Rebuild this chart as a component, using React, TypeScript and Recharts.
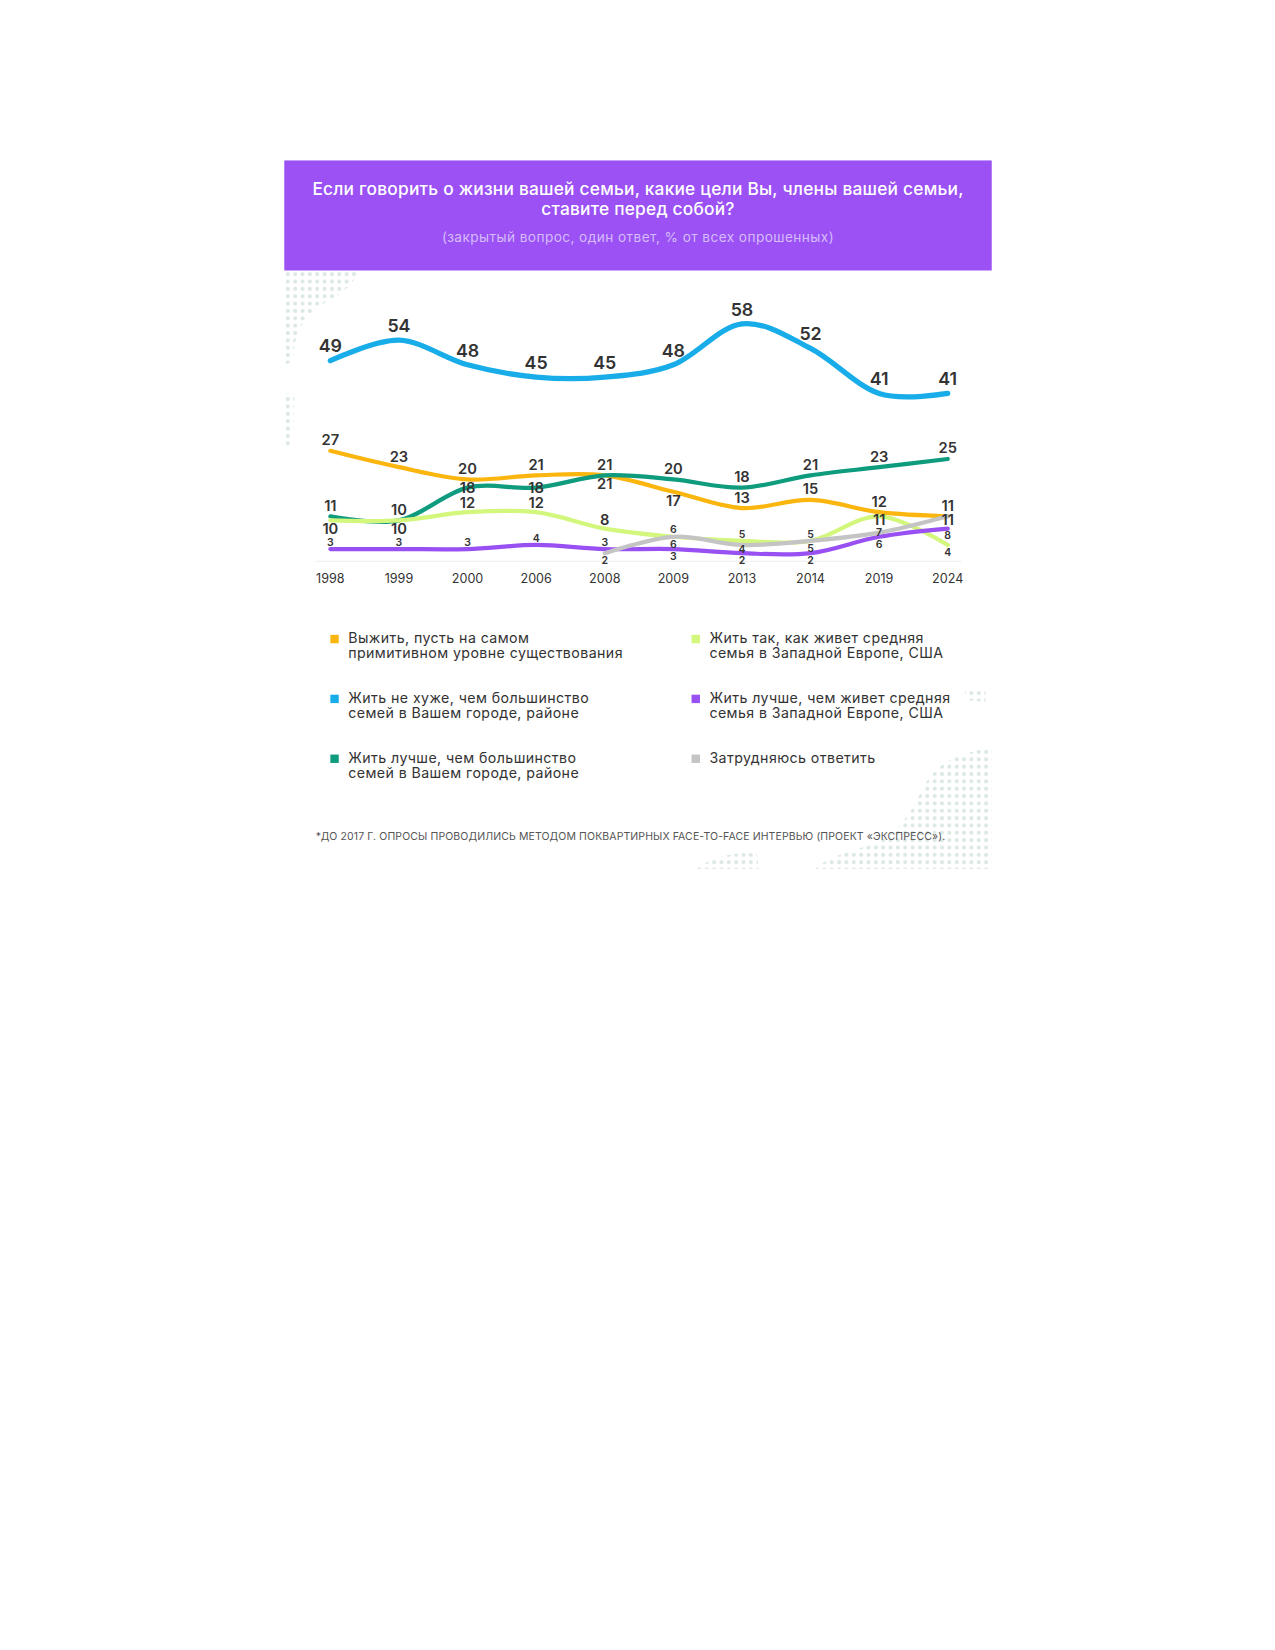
import { LineChart, Line, XAxis, YAxis } from "recharts";

const years = ["1998", "1999", "2000", "2006", "2008", "2009", "2013", "2014", "2019", "2024"];

const survive = [27, 23, 20, 21, 21, 17, 13, 15, 12, 11];
const notWorse = [49, 54, 48, 45, 45, 48, 58, 52, 41, 41];
const betterLocal = [11, 10, 18, 18, 21, 20, 18, 21, 23, 25];
const likeWest = [10, 10, 12, 12, 8, 6, 5, 5, 11, 4];
const betterWest = [3, 3, 3, 4, 3, 3, 2, 2, 6, 8];
const hardToSay = [null, null, null, null, 2, 6, 4, 5, 7, 11];

const data = years.map((year, i) => ({
  year,
  survive: survive[i],
  notWorse: notWorse[i],
  betterLocal: betterLocal[i],
  likeWest: likeWest[i],
  betterWest: betterWest[i],
  hardToSay: hardToSay[i],
}));

// where each value label sits: a = above, b = below, s = just below, c = on the line
const labelSide: Record<string, string[]> = {
  notWorse: ["a", "a", "a", "a", "a", "a", "a", "a", "a", "a"],
  survive: ["a", "a", "a", "a", "a", "b", "a", "a", "a", "a"],
  betterLocal: ["a", "a", "c", "c", "b", "a", "a", "a", "a", "a"],
  likeWest: ["b", "b", "a", "a", "a", "a", "a", "a", "s", "b"],
  betterWest: ["a", "a", "a", "a", "a", "b", "b", "b", "b", "b"],
  hardToSay: ["b", "b", "b", "b", "b", "b", "s", "b", "c", "s"],
};

const series = [
  { key: "survive", name: ["Выжить, пусть на самом", "примитивном уровне существования"], color: "#FBB50F", width: 4, font: 14 },
  { key: "notWorse", name: ["Жить не хуже, чем большинство", "семей в Вашем городе, районе"], color: "#18ADE8", width: 5, font: 17 },
  { key: "betterLocal", name: ["Жить лучше, чем большинство", "семей в Вашем городе, районе"], color: "#0E9B7E", width: 4, font: 14 },
  { key: "likeWest", name: ["Жить так, как живет средняя", "семья в Западной Европе, США"], color: "#D3F77C", width: 4, font: 14 },
  { key: "betterWest", name: ["Жить лучше, чем живет средняя", "семья в Западной Европе, США"], color: "#9850F2", width: 4, font: 10 },
  { key: "hardToSay", name: ["Затрудняюсь ответить"], color: "#C4C4C4", width: 4, font: 10 },
];

const legendOrder = [
  ["survive", "likeWest"],
  ["notWorse", "betterWest"],
  ["betterLocal", "hardToSay"],
];

const FONT = "Inter, 'Open Sans', sans-serif";

// cardinal spline (passes through points, slight overshoot like the original)
const cardinal = (context: any) => {
  const k = 1 / 6;
  let x0 = NaN, y0 = NaN, x1 = NaN, y1 = NaN, x2 = NaN, y2 = NaN, n = 0;
  const seg = (x: number, y: number) =>
    context.bezierCurveTo(x1 + k * (x2 - x0), y1 + k * (y2 - y0), x2 + k * (x1 - x), y2 + k * (y1 - y), x2, y2);
  return {
    areaStart() {},
    areaEnd() {},
    lineStart() {
      x0 = x1 = x2 = y0 = y1 = y2 = NaN;
      n = 0;
    },
    lineEnd() {
      if (n === 2) context.lineTo(x2, y2);
      else if (n === 3) seg(x1, y1);
    },
    point(x: number, y: number) {
      x = +x;
      y = +y;
      if (n === 0) {
        n = 1;
        context.moveTo(x, y);
      } else if (n === 1) {
        n = 2;
        x1 = x;
        y1 = y;
      } else {
        n = 3;
        seg(x, y);
      }
      x0 = x1; x1 = x2; x2 = x;
      y0 = y1; y1 = y2; y2 = y;
    },
  };
};

const makeLabel = (key: string, baseFont: number) => (props: any) => {
  const { x, y, value, index } = props;
  if (value == null) return null;
  let size = baseFont;
  if (key === "likeWest" && value < 8) size = 10;
  if (key === "hardToSay" && value >= 8) size = 14;
  const side = labelSide[key][index];
  let up = size >= 17 ? 14 : size >= 14 ? 10 : 6.5;
  if (key === "likeWest" && size >= 14) up = 8.5;
  const down = size >= 14 ? 8.5 : 7;
  const dy = side === "a" ? -up : side === "b" ? down : side === "s" ? 4 : 0;
  return (
    <text
      x={x}
      y={y + dy}
      textAnchor="middle"
      dominantBaseline="central"
      fontFamily={FONT}
      fontWeight={600}
      fontSize={size}
      fill="#333"
    >
      {value}
    </text>
  );
};

const Dots = () => (
  <svg width={674} height={675} style={{ position: "absolute", left: 0, top: 0, pointerEvents: "none" }}>
    <defs>
      <pattern id="dotpat" width="7" height="7" patternUnits="userSpaceOnUse">
        <circle cx="3.5" cy="3.5" r="1.9" fill="#dce8e4" />
      </pattern>
    </defs>
    <path d="M0 105 L72 105 Q62 125 40 135 Q15 150 10 175 L8 192 L0 195 Z" fill="url(#dotpat)" />
    <path d="M0 222 L10 222 L8 272 L0 274 Z" fill="url(#dotpat)" />
    <path d="M674 560 Q625 565 608 598 Q590 640 560 652 Q520 662 505 675 L674 675 Z" fill="url(#dotpat)" />
    <path d="M648 505 L668 505 L668 516 L650 514 Z" fill="url(#dotpat)" />
    <path d="M392 675 Q415 658 450 660 L452 675 Z" fill="url(#dotpat)" />
  </svg>
);

export default function App() {
  return (
    <div
      style={{
        position: "relative",
        width: 960,
        height: 960,
        fontFamily: FONT,
        transform: "scale(1.05)",
        transformOrigin: "0 0",
      }}
    >
      <div style={{ position: "absolute", left: 263, top: 145, width: 674, height: 675, background: "#fff", overflow: "hidden" }}>
        <Dots />
        <div
          style={{
            position: "absolute",
            left: 0,
            top: 0,
            width: 674,
            height: 105,
            background: "#9B51F4",
            color: "#fff",
            textAlign: "center",
          }}
        >
          <div style={{ marginTop: 18, fontSize: 16.5, fontWeight: 500, lineHeight: "19px", letterSpacing: 0.2 }}>
            Если говорить о жизни вашей семьи, какие цели Вы, члены вашей семьи,
            <br />
            ставите перед собой?
          </div>
          <div style={{ marginTop: 9, fontSize: 13, color: "#D6BCFB", fontWeight: 400, letterSpacing: 0.4 }}>
            (закрытый вопрос, один ответ, % от всех опрошенных)
          </div>
        </div>

        <div style={{ position: "absolute", left: 0, top: 112 }}>
          <LineChart width={674} height={300} data={data} margin={{ top: 36, right: 29, left: 30, bottom: 0 }}>
            <XAxis
              dataKey="year"
              padding={{ left: 14, right: 13 }}
              axisLine={{ stroke: "#ececec", strokeWidth: 1 }}
              tickLine={false}
              tickMargin={6}
              tick={{ fontSize: 12, fill: "#333", fontFamily: FONT, fontWeight: 400 }}
              height={30}
            />
            <YAxis hide domain={[0, 60]} />
            {series.map((s) => (
              <Line
                key={s.key}
                type={cardinal as any}
                dataKey={s.key}
                name={s.name.join(" ")}
                stroke={s.color}
                strokeWidth={s.width}
                strokeLinecap="round"
                dot={false}
                activeDot={false}
                connectNulls={false}
                isAnimationActive={false}
                label={makeLabel(s.key, s.font)}
              />
            ))}
          </LineChart>
        </div>

        <div style={{ position: "absolute", left: 44, top: 448, width: 620 }}>
          {legendOrder.map((row, r) => (
            <div key={r} style={{ display: "flex", height: 57 }}>
              {row.map((k, c) => {
                const s = series.find((x) => x.key === k)!;
                return (
                  <div key={k} style={{ display: "flex", width: c === 0 ? 344 : 276, alignItems: "flex-start" }}>
                    <span
                      style={{
                        display: "inline-block",
                        width: 8,
                        height: 8,
                        background: s.color,
                        marginTop: 4,
                        marginRight: 9,
                        flex: "none",
                      }}
                    />
                    <span
                      style={{
                        fontSize: 13.5,
                        lineHeight: "14px",
                        color: "#333",
                        letterSpacing: 0.4,
                        whiteSpace: "nowrap",
                      }}
                    >
                      {s.name.map((line, i) => (
                        <div key={i}>{line}</div>
                      ))}
                    </span>
                  </div>
                );
              })}
            </div>
          ))}
        </div>

        <div
          style={{
            position: "absolute",
            left: 30,
            top: 637,
            fontSize: 10,
            color: "#555",
            whiteSpace: "nowrap",
            letterSpacing: 0.1,
          }}
        >
          *ДО 2017 Г. ОПРОСЫ ПРОВОДИЛИСЬ МЕТОДОМ ПОКВАРТИРНЫХ FACE-TO-FACE ИНТЕРВЬЮ (ПРОЕКТ «ЭКСПРЕСС»).
        </div>
      </div>
    </div>
  );
}
